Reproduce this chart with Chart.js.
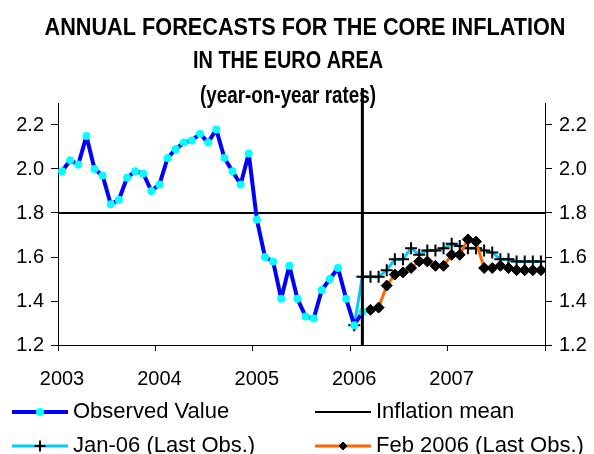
<!DOCTYPE html>
<html>
<head>
<meta charset="utf-8">
<script src="https://cdn.jsdelivr.net/npm/chart.js@4.4.0/dist/chart.umd.min.js"></script>
<style>
  body { margin: 0; background: #fff; }
  canvas { display: block; }
</style>
</head>
<body>
<canvas id="inflationChart" width="594" height="454"></canvas>
<script>
// monthly core inflation, Jan 2003 .. Dec 2007 (x = month index from Jan 2003)
const titleLines = ['ANNUAL FORECASTS FOR THE CORE INFLATION', 'IN THE EURO AREA', '(year-on-year rates)'];
const yearLabels = ['2003', '2004', '2005', '2006', '2007'];
const yTicks = [1.2, 1.4, 1.6, 1.8, 2.0, 2.2];
const inflationMean = 1.8;

// Jan 2003 - Feb 2006
const observedValue = [
  1.99, 2.04, 2.02, 2.15, 2.00, 1.97, 1.84, 1.86, 1.96, 1.99, 1.98, 1.90,
  1.93, 2.05, 2.09, 2.12, 2.13, 2.16, 2.12, 2.18, 2.05, 1.99, 1.93, 2.07,
  1.77, 1.60, 1.58, 1.41, 1.56, 1.41, 1.33, 1.32, 1.45, 1.50, 1.55, 1.41,
  1.29, 1.35
];
// Jan 2006 - Dec 2007
const jan06Forecast = [
  1.29, 1.51, 1.51, 1.51, 1.54, 1.59, 1.59, 1.64, 1.61, 1.63, 1.63, 1.64,
  1.66, 1.65, 1.64, 1.64, 1.63, 1.62, 1.59, 1.59, 1.58, 1.58, 1.58, 1.58
];
// Feb 2006 - Dec 2007
const feb06Forecast = [
  1.35, 1.36, 1.37, 1.47, 1.52, 1.53, 1.55, 1.58, 1.58, 1.56, 1.56,
  1.61, 1.61, 1.68, 1.67, 1.55, 1.55, 1.56, 1.55, 1.54, 1.54, 1.54, 1.54
];
const jan06Start = 36;
const feb06Start = 37;
const lastMonth = 59;

const toPoints = (arr, start) => arr.map((v, i) => ({ x: start + i, y: v }));

const axisFont = { family: '"Liberation Sans", Arial, sans-serif', size: 20 };

// title drawn by hand: the last line sits inside the plot top
const titlePlugin = {
  id: 'titleLines',
  afterDraw(chart) {
    const ctx = chart.ctx;
    const spots = [[305, 35, 521], [288, 68, 190], [288, 103, 176]];
    ctx.save();
    ctx.fillStyle = '#000';
    ctx.font = 'bold 23px "Liberation Sans Narrow", "Arial Narrow", "Liberation Sans", Arial, sans-serif';
    ctx.textAlign = 'center';
    ctx.textBaseline = 'alphabetic';
    titleLines.forEach((t, i) => {
      const [cx, cy, w] = spots[i];
      const s = w / ctx.measureText(t).width;
      ctx.save();
      ctx.translate(cx, cy);
      ctx.scale(s, 1);
      ctx.fillText(t, 0, 0);
      ctx.restore();
    });
    ctx.restore();
  }
};

// black line at the last observation (Feb 2006)
const lastObsPlugin = {
  id: 'lastObs',
  afterDatasetsDraw(chart) {
    const ctx = chart.ctx;
    const x = chart.scales.x.getPixelForValue(feb06Start);
    ctx.save();
    ctx.strokeStyle = '#000';
    ctx.lineWidth = 3;
    ctx.beginPath();
    ctx.moveTo(x, 88);
    ctx.lineTo(x, chart.chartArea.bottom);
    ctx.stroke();
    ctx.restore();
  }
};

// 2 x 2 legend under the axis
const legendPlugin = {
  id: 'gridLegend',
  afterDraw(chart) {
    const ctx = chart.ctx;
    const slots = [[0, 12, 412, 4], [3, 315, 412, 0], [1, 12, 446, 5.5], [2, 315, 446, 4]];
    ctx.save();
    slots.forEach(([idx, x, y, r]) => {
      const ds = chart.data.datasets[idx];
      ctx.strokeStyle = ds.borderColor;
      ctx.lineWidth = ds.borderWidth;
      ctx.beginPath();
      ctx.moveTo(x, y);
      ctx.lineTo(x + 56, y);
      ctx.stroke();
      if (r) {
        ctx.fillStyle = ds.pointBackgroundColor;
        ctx.strokeStyle = ds.pointBorderColor;
        ctx.lineWidth = ds.pointBorderWidth;
        Chart.helpers.drawPoint(ctx, { pointStyle: ds.pointStyle, radius: r, rotation: 0, borderWidth: ds.pointBorderWidth }, x + 28, y);
      }
      ctx.fillStyle = '#000';
      ctx.font = '22px "Liberation Sans", Arial, sans-serif';
      ctx.textAlign = 'left';
      ctx.textBaseline = 'middle';
      ctx.fillText(ds.label, x + 61, y);
    });
    ctx.restore();
  }
};

const yAxis = (position, width) => ({
  position: position,
  min: 1.2,
  max: 2.3,
  afterBuildTicks: s => { s.ticks = yTicks.map(v => ({ value: v })); },
  afterFit: s => { s.width = width; },
  ticks: { callback: v => v.toFixed(1), padding: 7, color: '#000', font: axisFont },
  grid: { drawOnChartArea: false, tickLength: 7, color: '#000' },
  border: { color: '#000', width: 1 }
});

const ctx = document.getElementById('inflationChart').getContext('2d');
new Chart(ctx, {
  type: 'line',
  data: {
    datasets: [
      {
        label: 'Observed Value',
        data: toPoints(observedValue, 0),
        borderColor: '#0000FF',
        borderWidth: 4,
        borderJoinStyle: 'round',
        pointStyle: 'circle',
        pointRadius: 4,
        pointBackgroundColor: '#00FFFF',
        pointBorderColor: '#00FFFF',
        pointBorderWidth: 0,
        order: 0
      },
      {
        label: 'Jan-06 (Last Obs.)',
        data: toPoints(jan06Forecast, jan06Start),
        borderColor: '#00CCFF',
        borderWidth: 3,
        borderJoinStyle: 'round',
        pointStyle: 'cross',
        pointRadius: 6,
        pointBackgroundColor: '#000',
        pointBorderColor: '#000',
        pointBorderWidth: 2,
        order: 2
      },
      {
        label: 'Feb 2006 (Last Obs.)',
        data: toPoints(feb06Forecast, feb06Start),
        borderColor: '#FF6600',
        borderWidth: 3,
        borderJoinStyle: 'round',
        pointStyle: 'rectRot',
        pointRadius: c => (c.dataIndex === 0 ? 0 : 5.5),
        pointBackgroundColor: '#000',
        pointBorderColor: '#000',
        pointBorderWidth: 1,
        order: 1
      },
      {
        label: 'Inflation mean',
        data: [{ x: -0.5, y: inflationMean }, { x: lastMonth + 0.5, y: inflationMean }],
        borderColor: '#000',
        borderWidth: 2,
        pointRadius: 0,
        order: 3
      }
    ]
  },
  options: {
    responsive: false,
    animation: false,
    layout: { padding: { top: 103 } },
    plugins: {
      legend: { display: false },
      title: { display: false },
      tooltip: { enabled: false }
    },
    scales: {
      x: {
        type: 'linear',
        min: -0.5,
        max: lastMonth + 0.5,
        afterBuildTicks: s => {
          s.ticks = yearLabels.map((_, i) => ({ value: i * 12 - 0.5 })).concat([{ value: lastMonth + 0.5 }]);
        },
        afterFit: s => { s.height = 109; },
        ticks: {
          callback: v => yearLabels[Math.round((v + 0.5) / 12)] || '',
          autoSkip: false,
          maxRotation: 0,
          padding: 16,
          labelOffset: 4,
          color: '#000',
          font: axisFont
        },
        grid: { drawOnChartArea: false, tickLength: 6, color: '#000' },
        border: { color: '#000', width: 1 }
      },
      y: yAxis('left', 58),
      y2: yAxis('right', 49)
    }
  },
  plugins: [titlePlugin, lastObsPlugin, legendPlugin]
});
</script>
</body>
</html>
